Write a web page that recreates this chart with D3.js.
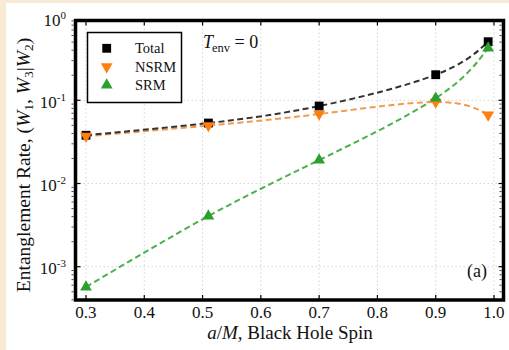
<!DOCTYPE html>
<html><head><meta charset="utf-8">
<script src="https://cdn.jsdelivr.net/npm/d3@7"></script>
<style>
html,body{margin:0;padding:0;background:#f8ead4;}
svg{display:block;}
</style></head>
<body><svg id="chart" width="509" height="350" font-family="'Liberation Serif', 'DejaVu Serif', serif"></svg>
<script>
const spins = [0.3, 0.51, 0.7, 0.9, 0.99];
const totalVals = [0.038, 0.0533, 0.0853, 0.203, 0.506];
const nsrmVals = [0.037, 0.0497, 0.0684, 0.0953, 0.0666];
const srmVals = [0.00057, 0.00406, 0.0191, 0.106, 0.425];
const xTicks = [0.3, 0.4, 0.5, 0.6, 0.7, 0.8, 0.9, 1.0];
const yTicks = [1e-3, 1e-2, 1e-1, 1];
const yTickExp = ["-3", "-2", "-1", "0"];
const seriesNames = ["Total", "NSRM", "SRM"];
const seriesColors = ["#000000", "#ff7f0e", "#2ca02c"];
const lineColors = ["#333333", "#f59a4c", "#4cb04c"];

const FONT = "'Liberation Serif', 'DejaVu Serif', serif";
const svg = d3.select("#chart");
svg.append("rect").attr("x", 6).attr("y", 3).attr("width", 503).attr("height", 347).attr("fill", "#ffffff");

const L = 75.5, R = 503.5, T = 20.5, B = 300;
const x = d3.scaleLinear().domain([0.282, 1.0163]).range([L, R]);
const y = d3.scaleLog().domain([Math.pow(10, -3.4), Math.pow(10, -0.041)]).range([B, T]);

function txt(g) { return g.append("text").attr("font-family", FONT).attr("fill", "#111"); }

// grid
const grid = svg.append("g").attr("stroke", "#d4d4d4").attr("stroke-width", 1).attr("stroke-dasharray", "1.5,2.5");
xTicks.forEach(t => grid.append("line").attr("x1", x(t)).attr("x2", x(t)).attr("y1", T).attr("y2", B));
yTicks.filter(t => y(t) > T + 2).forEach(t => grid.append("line").attr("x1", L).attr("x2", R).attr("y1", y(t)).attr("y2", y(t)));

// minor ticks on y
const minor = [];
for (let e = -4; e <= 0; e++) for (let k = 2; k <= 9; k++) { const v = k * Math.pow(10, e); if (y(v) <= B && y(v) >= T) minor.push(v); }
svg.append("g").attr("stroke", "#444").attr("stroke-width", 1).selectAll("line").data(minor).join("line")
  .attr("x1", L - 4).attr("x2", L - 2).attr("y1", d => y(d)).attr("y2", d => y(d));
svg.append("g").attr("stroke", "#444").attr("stroke-width", 1).selectAll("line").data(minor).join("line")
  .attr("x1", R - 2).attr("x2", R - 4).attr("y1", d => y(d)).attr("y2", d => y(d));

// major ticks
const tk = svg.append("g").attr("stroke", "#000").attr("stroke-width", 1.2);
xTicks.forEach(t => {
  tk.append("line").attr("x1", x(t)).attr("x2", x(t)).attr("y1", B).attr("y2", B - 5);
  tk.append("line").attr("x1", x(t)).attr("x2", x(t)).attr("y1", T).attr("y2", T + 5);
});
yTicks.filter(t => y(t) > T + 2).forEach(t => {
  tk.append("line").attr("x1", L).attr("x2", L + 5).attr("y1", y(t)).attr("y2", y(t));
  tk.append("line").attr("x1", R).attr("x2", R - 5).attr("y1", y(t)).attr("y2", y(t));
});

// frame
svg.append("rect").attr("x", L).attr("y", T).attr("width", R - L).attr("height", B - T)
  .attr("fill", "none").attr("stroke", "#000").attr("stroke-width", 3.5);

// tick labels
xTicks.forEach(t => {
  txt(svg).attr("x", x(t)).attr("y", 318).attr("text-anchor", "middle").attr("font-size", 17).text(t.toFixed(1));
});
yTicks.forEach((t, i) => {
  const yy = Math.max(y(t), 18.5) + 7.5;
  const tx = txt(svg).attr("x", 66).attr("y", yy).attr("text-anchor", "end").attr("font-size", 17);
  tx.append("tspan").text("10");
  tx.append("tspan").attr("font-size", 11).attr("dy", -7).text(yTickExp[i]);
});

// axis labels
const xl = txt(svg).attr("x", 290).attr("y", 339).attr("text-anchor", "middle").attr("font-size", 19);
xl.append("tspan").attr("font-style", "italic").text("a");
xl.append("tspan").text("/");
xl.append("tspan").attr("font-style", "italic").text("M");
xl.append("tspan").text(", Black Hole Spin");

const yl = txt(svg).attr("transform", "translate(30,165) rotate(-90)").attr("text-anchor", "middle").attr("font-size", 19.5);
yl.append("tspan").text("Entanglement Rate, (");
yl.append("tspan").attr("font-style", "italic").text("W");
yl.append("tspan").attr("font-size", 13.5).attr("dy", 3).text("1");
yl.append("tspan").attr("dy", -3).text(", ");
yl.append("tspan").attr("font-style", "italic").text("W");
yl.append("tspan").attr("font-size", 13.5).attr("dy", 3).text("3");
yl.append("tspan").attr("dy", -3).text("|");
yl.append("tspan").attr("font-style", "italic").text("W");
yl.append("tspan").attr("font-size", 13.5).attr("dy", 3).text("2");
yl.append("tspan").attr("dy", -3).text(")");

// curves
const seriesVals = [totalVals, nsrmVals, srmVals];
const line = d3.line().x(d => x(d[0])).y(d => y(d[1])).curve(d3.curveNatural);
[2, 1, 0].forEach(i => {
  const pts = spins.map((s, j) => [s, seriesVals[i][j]]);
  svg.append("path").attr("d", line(pts)).attr("fill", "none")
    .attr("stroke", lineColors[i]).attr("stroke-width", 2).attr("stroke-dasharray", "6,3.5");
});

// markers
const sym = [d3.symbolSquare, d3.symbolTriangle, d3.symbolTriangle];
const symSize = [78, 60, 60];
const rot = [0, 180, 0];
function drawMarker(g, i, cx, cy) {
  g.append("path").attr("d", d3.symbol().type(sym[i]).size(symSize[i])())
    .attr("transform", `translate(${cx},${cy}) rotate(${rot[i]})`)
    .attr("fill", seriesColors[i]);
}
[0, 1, 2].forEach(i => {
  const g = svg.append("g");
  spins.forEach((s, j) => drawMarker(g, i, x(s), y(seriesVals[i][j])));
});

// legend
svg.append("rect").attr("x", 87.5).attr("y", 32.5).attr("width", 94).attr("height", 70)
  .attr("fill", "#fff").attr("stroke", "#000").attr("stroke-width", 1.5);
const legY = [48.3, 66.7, 85];
seriesNames.forEach((n, i) => {
  drawMarker(svg.append("g"), i, 106.7, legY[i]);
  txt(svg).attr("x", 135).attr("y", legY[i] + 5).attr("font-size", 14.5).text(n);
});

// annotations
const te = txt(svg).attr("x", 203).attr("y", 48).attr("font-size", 18);
te.append("tspan").attr("font-style", "italic").text("T");
te.append("tspan").attr("font-size", 12.5).attr("dy", 4).attr("dx", -1).text("env");
te.append("tspan").attr("dy", -4).text(" = 0");

txt(svg).attr("x", 487).attr("y", 277).attr("text-anchor", "end").attr("font-size", 18).text("(a)");
</script></body></html>
